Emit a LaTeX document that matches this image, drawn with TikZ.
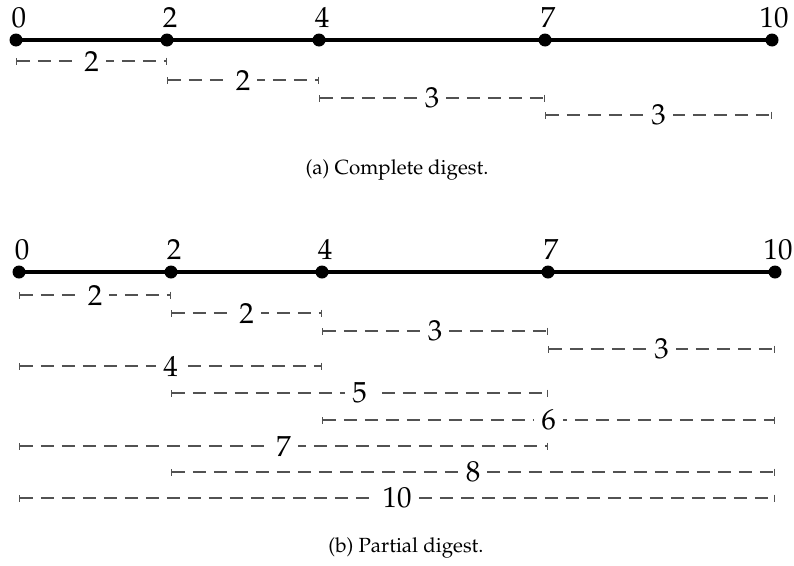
\documentclass[tikz,border=0pt]{standalone}
\usepackage[T1]{fontenc}
\usepackage{mathpazo}
\usetikzlibrary{arrows.meta,calc}
\begin{document}
\begin{tikzpicture}[x=1pt,y=-1pt,
  ptdot/.style={circle,fill=black,inner sep=0pt,minimum size=13pt},
  mainline/.style={line width=4pt},
  ptlbl/.style={anchor=base,font=\fontsize{29}{34}\selectfont,inner sep=0pt},
  intv/.style={draw=black!68,line width=1.3pt,dash pattern=on 13pt off 8pt,
    {Bar[width=7pt,line width=1.3pt]}-{Bar[width=7pt,line width=1.3pt]}},
  lenlbl/.style={midway,fill=white,inner xsep=7pt,inner ysep=1pt,text=black,
    font=\fontsize{29}{34}\selectfont},
  capt/.style={anchor=base,font=\fontsize{20.5}{24}\selectfont,inner sep=0pt}]
\useasboundingbox (0,0) rectangle (794,565);
% ---------- (a) complete digest ----------
\node[ptdot] (a0) at (16,40) {};
\node[ptdot] (a2) at (167,40) {};
\node[ptdot] (a4) at (319,40) {};
\node[ptdot] (a7) at (545,40) {};
\node[ptdot] (a10) at (772,40) {};
\draw[mainline] (a0.center) -- (a10.center);
\node[ptlbl] (la0) at (19,27) {0};
\node[ptlbl] (la2) at (170,27) {2};
\node[ptlbl] (la4) at (322,27) {4};
\node[ptlbl] (la7) at (548,27) {7};
\node[ptlbl] (la10) at (774,27) {10};
\draw[intv] (a0 |- 0,61) -- (a2 |- 0,61) node[lenlbl] {2};
\draw[intv] (a2 |- 0,80) -- (a4 |- 0,80) node[lenlbl] {2};
\draw[intv] (a4 |- 0,98) -- (a7 |- 0,98) node[lenlbl] {3};
\draw[intv] (a7 |- 0,115) -- (a10 |- 0,115) node[lenlbl] {3};
\node[capt] (capa) at (397,174) {(a) Complete digest.};
% ---------- (b) partial digest ----------
\node[ptdot] (b0) at (19,272) {};
\node[ptdot] (b2) at (171,272) {};
\node[ptdot] (b4) at (322,272) {};
\node[ptdot] (b7) at (548,272) {};
\node[ptdot] (b10) at (775,272) {};
\draw[mainline] (b0.center) -- (b10.center);
\node[ptlbl] (lb0) at (22,259) {0};
\node[ptlbl] (lb2) at (174,259) {2};
\node[ptlbl] (lb4) at (325,259) {4};
\node[ptlbl] (lb7) at (551,259) {7};
\node[ptlbl] (lb10) at (778,259) {10};
\draw[intv] (b0 |- 0,295) -- (b2 |- 0,295) node[lenlbl] {2};
\draw[intv] (b2 |- 0,313) -- (b4 |- 0,313) node[lenlbl] {2};
\draw[intv] (b4 |- 0,331) -- (b7 |- 0,331) node[lenlbl] {3};
\draw[intv] (b7 |- 0,349) -- (b10 |- 0,349) node[lenlbl] {3};
\draw[intv] (b0 |- 0,366) -- (b4 |- 0,366) node[lenlbl] {4};
\draw[intv] (b2 |- 0,393) -- (b7 |- 0,393) node[lenlbl] {5};
\draw[intv] (b4 |- 0,420) -- (b10 |- 0,420) node[lenlbl] {6};
\draw[intv] (b0 |- 0,446) -- (b7 |- 0,446) node[lenlbl] {7};
\draw[intv] (b2 |- 0,472) -- (b10 |- 0,472) node[lenlbl] {8};
\draw[intv] (b0 |- 0,498) -- (b10 |- 0,498) node[lenlbl] {10};
\node[capt] (capb) at (406,552) {(b) Partial digest.};
\end{tikzpicture}
\end{document}
